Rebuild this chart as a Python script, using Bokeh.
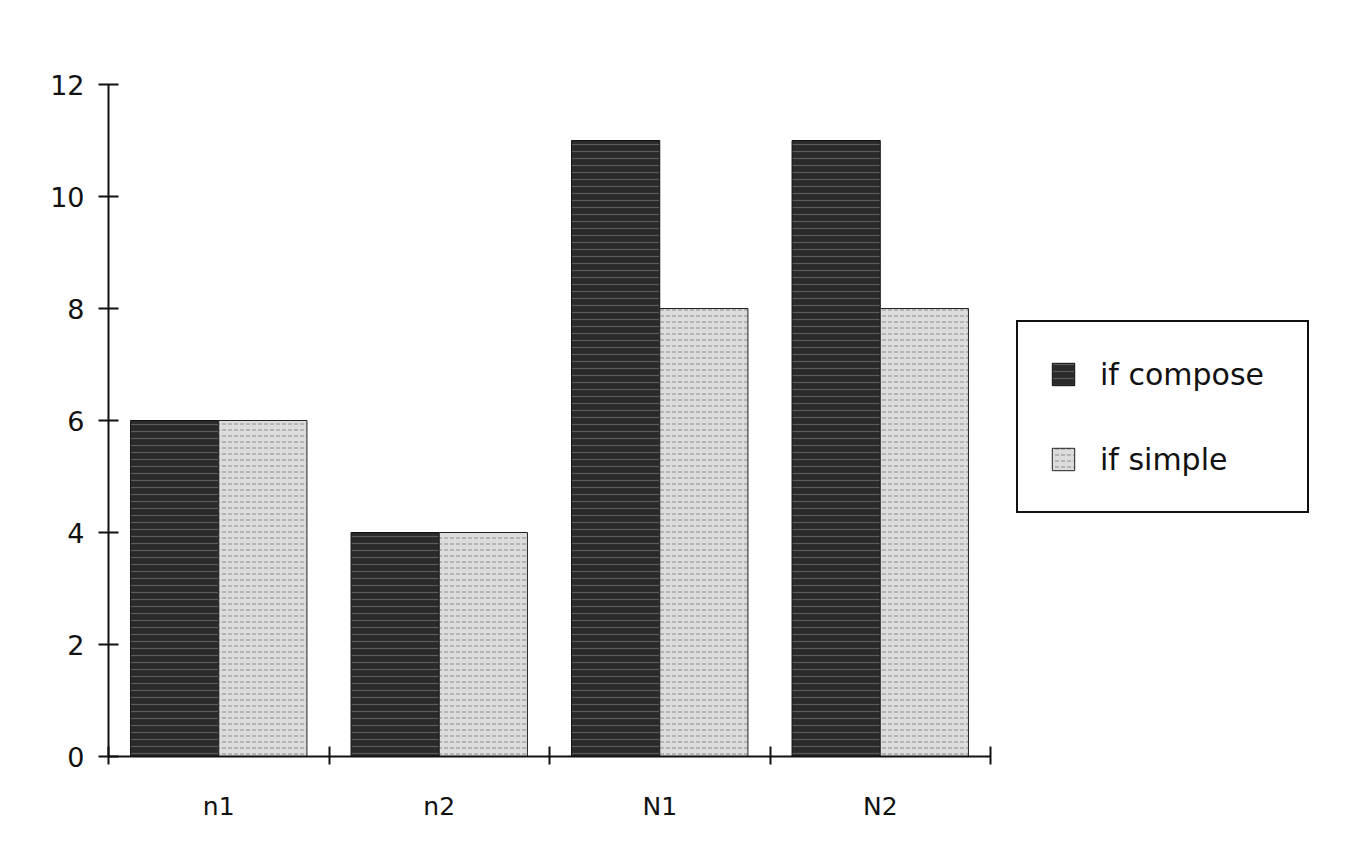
from bokeh.plotting import figure
from bokeh.models import Range1d, FixedTicker, ColumnDataSource, Legend, LegendItem
from bokeh.transform import dodge
from bokeh.embed import file_html
from bokeh.resources import INLINE
import numpy as np

categories = ["n1", "n2", "N1", "N2"]
if_compose = [6, 4, 11, 11]
if_simple = [6, 4, 8, 8]
y_ticks = [0, 2, 4, 6, 8, 10, 12]

FONT = "DejaVu Sans"

n = len(categories)
centers = list(np.arange(n) + 0.5)
bounds = list(range(n + 1))

# layout: the axis part of the frame is 882 px wide; frame continues to the right for the legend
W, H = 1350, 830
LEFT, RIGHT = 108, 10
frame_w = W - LEFT - RIGHT
axis_px = 882
x_end = n * frame_w / axis_px

src = ColumnDataSource(dict(x=centers, compose=if_compose, simple=if_simple))

p = figure(width=W, height=H,
           x_range=Range1d(0, x_end), y_range=Range1d(0, 12),
           min_border_left=LEFT, min_border_right=RIGHT,
           min_border_top=84, min_border_bottom=74,
           output_backend="svg", toolbar_location=None)
p.outline_line_color = None
p.xgrid.visible = False
p.ygrid.visible = False
p.background_fill_color = "white"
p.border_fill_color = "white"

r1 = p.vbar(x=dodge("x", -0.2, range=p.x_range), top="compose", width=0.4, bottom=0,
            source=src, fill_color="#2a2a2a", line_color="#111111", line_width=1,
            hatch_pattern="horizontal_line", hatch_color="#5c5c5c",
            hatch_scale=7, hatch_weight=1.2)
r2 = p.vbar(x=dodge("x", 0.2, range=p.x_range), top="simple", width=0.4, bottom=0,
            source=src, fill_color="#dcdcdc", line_color="#222222", line_width=1,
            hatch_pattern="horizontal_dash", hatch_color="#8c8c8c",
            hatch_scale=6, hatch_weight=1)

# y axis
ya = p.yaxis[0]
ya.ticker = FixedTicker(ticks=y_ticks, minor_ticks=[])
ya.axis_line_width = 2
ya.axis_line_color = "#111111"
ya.major_tick_in = 10
ya.major_tick_out = 10
ya.major_tick_line_width = 2
ya.major_tick_line_color = "#111111"
ya.minor_tick_line_color = None
ya.major_label_text_font = FONT
ya.major_label_text_font_size = "27px"
ya.major_label_text_color = "#111111"
ya.major_label_standoff = 14

# x axis: labels at category centers, ticks at boundaries
xa = p.xaxis[0]
xa.bounds = (0, n)
xa.ticker = FixedTicker(ticks=centers, minor_ticks=bounds)
xa.major_label_overrides = {c: lab for c, lab in zip(centers, categories)}
xa.axis_line_width = 2
xa.axis_line_color = "#111111"
xa.major_tick_line_color = None
xa.major_tick_in = 0
xa.major_tick_out = 0
xa.minor_tick_in = 10
xa.minor_tick_out = 8
xa.minor_tick_line_width = 2
xa.minor_tick_line_color = "#111111"
xa.major_label_text_font = FONT
xa.major_label_text_font_size = "25px"
xa.major_label_text_color = "#111111"
xa.major_label_standoff = 27

legend = Legend(items=[LegendItem(label="if compose", renderers=[r1]),
                       LegendItem(label="if simple", renderers=[r2])],
                location=(908, 243))
legend.border_line_color = "#111111"
legend.border_line_width = 2
legend.border_line_alpha = 1
legend.background_fill_color = "white"
legend.background_fill_alpha = 1
legend.padding = 31
legend.spacing = 43
legend.glyph_width = 28
legend.glyph_height = 28
legend.label_height = 42
legend.label_width = 176
legend.label_standoff = 23
legend.label_text_font = FONT
legend.label_text_font_size = "30px"
legend.label_text_color = "#111111"
legend.margin = 0
p.add_layout(legend, "center")

open("out.html", "w").write(file_html(p, INLINE))
